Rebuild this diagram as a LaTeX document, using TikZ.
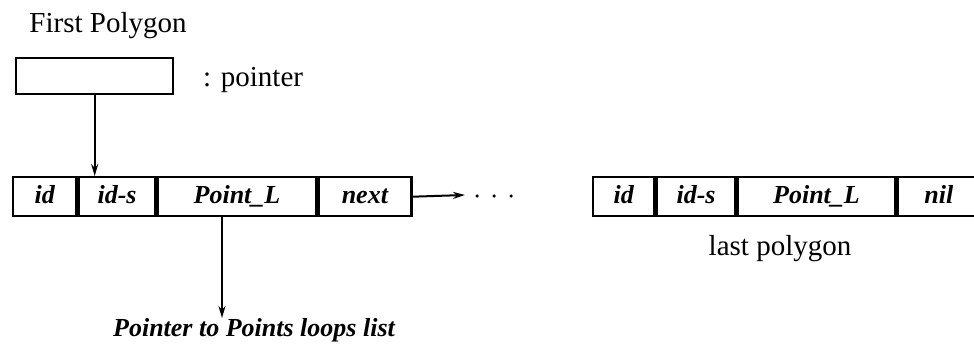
\documentclass[tikz,border=0pt]{standalone}
\usepackage{fontspec}
\setmainfont{Liberation Serif}
\usetikzlibrary{arrows.meta}
\begin{document}
\begin{tikzpicture}[x=1pt,y=-1pt,
  cell/.style={draw, line width=2.4pt, minimum height=39pt, inner sep=0pt, anchor=north west,
    text height=18pt, text depth=5pt,
    font=\fontsize{26}{28}\selectfont\itshape\bfseries},
  lbl/.style={inner sep=0pt, font=\fontsize{29}{32}\selectfont},
  arr/.style={line width=2pt, -{Stealth[length=12pt,width=7pt]}},
  dot/.style={circle, fill, inner sep=0pt, minimum size=3.5pt}]
\useasboundingbox (0,0) rectangle (974,345);
% first polygon label and pointer
\node[lbl] (fp) at (108,26) {First Polygon};
\node[draw, line width=2.4pt, minimum width=157pt, minimum height=36pt, inner sep=0pt, anchor=north west] (ptr) at (15,57) {};
\node[lbl, anchor=west] (pl) at (203,80) {: pointer};
% first record
\node[cell, minimum width=63pt] (a1) at (12,176) {id};
\node[cell, minimum width=77pt] (a2) at (a1.north east) {id-s};
\node[cell, minimum width=158pt] (a3) at (a2.north east) {Point\_L};
\node[cell, minimum width=93pt] (a4) at (a3.north east) {next};
% last record
\node[cell, minimum width=61pt] (b1) at (592,176) {id};
\node[cell, minimum width=79pt] (b2) at (b1.north east) {id-s};
\node[cell, minimum width=157pt] (b3) at (b2.north east) {Point\_L};
\node[cell, minimum width=83pt] (b4) at (b3.north east) {nil};
\node[lbl] (lp) at (780,249) {last polygon};
% pointer arrow
\draw[arr] (ptr.south) -- (ptr.south |- a2.north);
% next arrow and dots
\coordinate (nx) at (465,195);
\draw[arr] (a4.east) -- (nx);
\node[dot] (d1) at (477,196) {};
\node[dot] (d2) at (494,196) {};
\node[dot] (d3) at (511,196) {};
% Point_L arrow
\node[inner sep=0pt, anchor=north, font=\fontsize{26}{28}\selectfont\itshape\bfseries] (plt) at (254,318) {Pointer to Points loops list};
\coordinate (pa) at (222,318);
\draw[arr] (pa |- a3.south) -- (pa);
\end{tikzpicture}
\end{document}
